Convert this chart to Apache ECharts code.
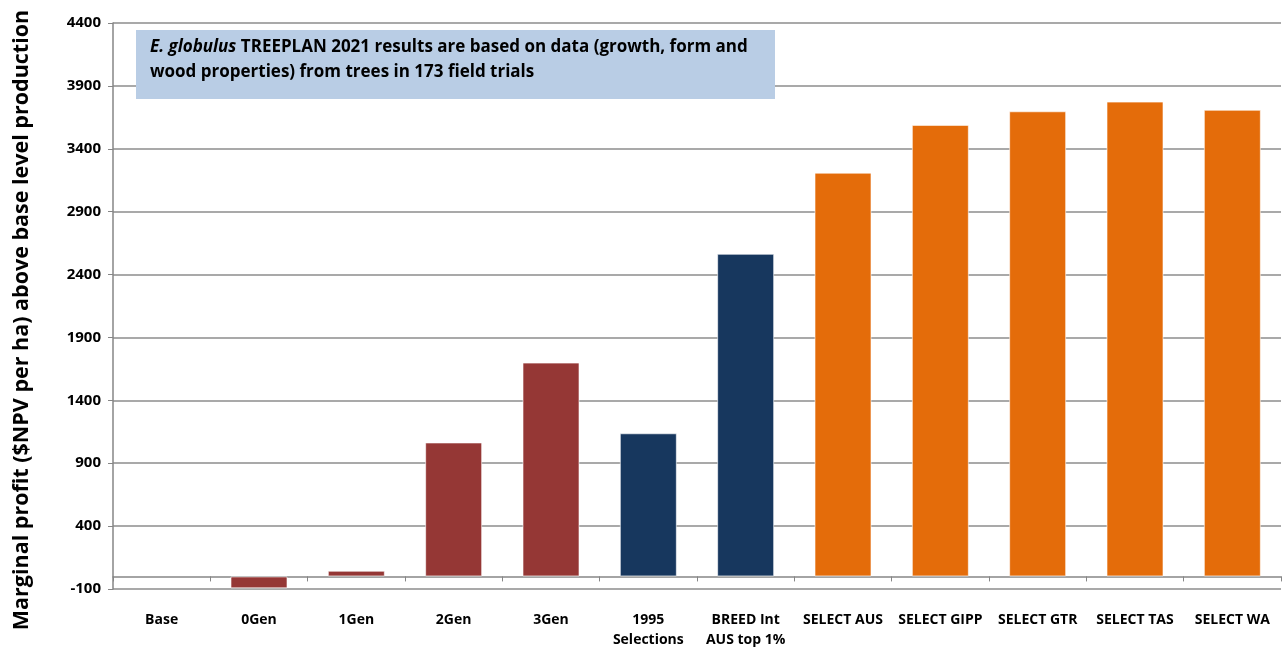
<!DOCTYPE html>
<html>
<head>
<meta charset="utf-8">
<script src="https://cdn.jsdelivr.net/npm/echarts@6/dist/echarts.min.js"></script>
<style>
html,body{margin:0;padding:0;background:#fff;}
#chart{width:1287px;height:648px;}
</style>
</head>
<body>
<div id="chart"></div>
<script>
const categories = ['Base','0Gen','1Gen','2Gen','3Gen','1995\nSelections','BREED Int\nAUS top 1%','SELECT AUS','SELECT GIPP','SELECT GTR','SELECT TAS','SELECT WA'];
const values = [0, -95, 45, 1065, 1700, 1138, 2565, 3210, 3590, 3698, 3775, 3710];
const groups = ['red','red','red','red','red','navy','navy','orange','orange','orange','orange','orange'];
const yTicks = {min: -100, max: 4400, interval: 500};
const yAxisTitle = 'Marginal profit ($NPV per ha) above base level production';
const noteItalic = 'E. globulus';
const noteRest1 = ' TREEPLAN 2021 results are based on data (growth, form and';
const noteLine2 = 'wood properties) from trees in 173 field trials';

const palette = {red:'#953735', navy:'#17375E', orange:'#E46C0A'};
const FONT = 'Open Sans';

const chart = echarts.init(document.getElementById('chart'));
chart.setOption({
  animation:false,
  backgroundColor:'#ffffff',
  grid:{left:113, right:6, top:23, bottom:59, containLabel:false, outerBoundsMode:'none'},
  xAxis:{
    type:'category',
    data:categories,
    axisLine:{show:true, onZero:true, lineStyle:{color:'#868686', width:1.5}},
    axisTick:{show:true, interval:0, length:5, lineStyle:{color:'#868686', width:1}},
    axisLabel:{interval:0, margin:21, verticalAlign:'top', color:'#000', fontFamily:FONT, fontWeight:'bold', fontSize:14, lineHeight:20},
    splitLine:{show:false}
  },
  yAxis:{
    type:'value',
    min:yTicks.min, max:yTicks.max, interval:yTicks.interval,
    axisLine:{show:true, lineStyle:{color:'#868686', width:1.5}},
    axisTick:{show:true, length:5, inside:false, lineStyle:{color:'#868686', width:1}},
    axisLabel:{margin:12, color:'#000', fontFamily:FONT, fontWeight:'bold', fontSize:15, formatter:(v)=>String(v)},
    splitLine:{show:true, lineStyle:{color:'#8c8c8c', width:1.5}}
  },
  series:[{
    type:'bar',
    barWidth:57,
    data:values.map((v,i)=>({value:v, itemStyle:{color:palette[groups[i]], borderWidth: v===0?0:1}})),
    itemStyle:{borderColor:'rgba(255,255,255,0.6)', borderWidth:1},
    label:{show:false}
  }],
  graphic:[{
    type:'text',
    x:22, y:320,
    rotation:Math.PI/2,
    style:{
      text:yAxisTitle,
      fontFamily:FONT, fontWeight:'bold', fontSize:21.5, fill:'#000',
      align:'center', verticalAlign:'middle'
    }
  },{
    type:'rect',
    left:136, top:30,
    shape:{width:639, height:69},
    style:{fill:'#B9CDE5'},
    z:10
  },{
    type:'text',
    left:150, top:39,
    style:{
      text:'{i|'+noteItalic+'}{b|'+noteRest1+'}\n{b|'+noteLine2+'}',
      rich:{
        i:{fontFamily:FONT, fontWeight:'bold', fontStyle:'italic', fontSize:17, lineHeight:25, fill:'#000'},
        b:{fontFamily:FONT, fontWeight:'bold', fontSize:17, lineHeight:25, fill:'#000'}
      }
    },
    z:11
  }]
});
</script>
</body>
</html>
